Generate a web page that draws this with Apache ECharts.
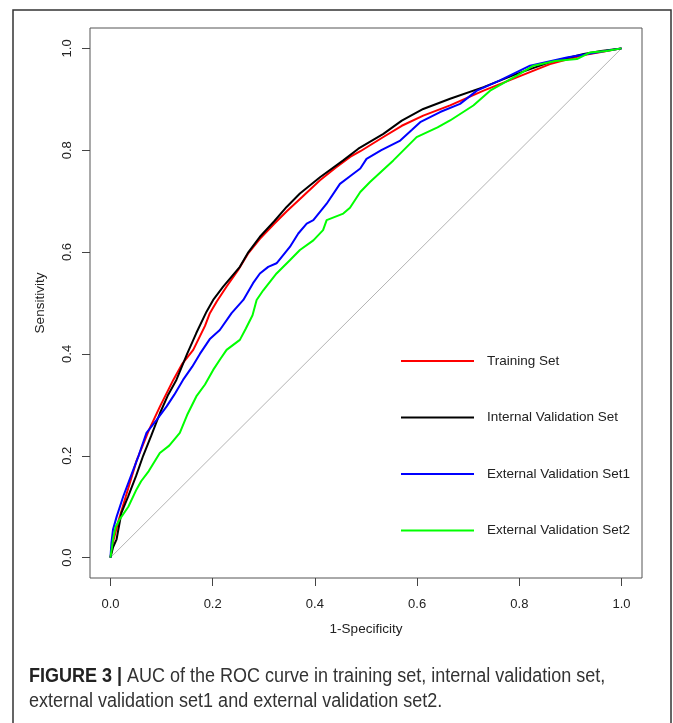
<!DOCTYPE html>
<html>
<head>
<meta charset="utf-8">
<script src="https://cdn.jsdelivr.net/npm/echarts@6/dist/echarts.min.js"></script>
<style>
html,body{margin:0;padding:0;background:#fff;}
#chart{width:673px;height:723px;}
</style>
</head>
<body>
<div id="chart"></div>
<script>
// ---- data ----
const seriesNames = ['Training Set', 'Internal Validation Set', 'External Validation Set1', 'External Validation Set2'];
const tickValues = [0, 0.2, 0.4, 0.6, 0.8, 1.0];
const xAxisTitle = '1-Specificity';
const yAxisTitle = 'Sensitivity';
const captionBold = 'FIGURE 3 |';
const captionLine1 = ' AUC of the ROC curve in training set, internal validation set,';
const captionLine2 = 'external validation set1 and external validation set2.';

const trainingSet = [[0,0],[0.005,0.03],[0.015,0.07],[0.03,0.12],[0.051,0.19],[0.075,0.25],[0.097,0.297],[0.123,0.349],[0.14,0.38],[0.162,0.408],[0.185,0.455],[0.1945,0.48],[0.208,0.503],[0.227,0.532],[0.25,0.565],[0.27,0.598],[0.2924,0.626],[0.32,0.655],[0.345,0.68],[0.375,0.708],[0.41,0.741],[0.44,0.765],[0.469,0.787],[0.489,0.798],[0.534,0.826],[0.57,0.848],[0.612,0.868],[0.6645,0.888],[0.73,0.917],[0.795,0.943],[0.86,0.969],[0.926,0.987],[0.96,0.993],[1,1]];
const internalSet = [[0,0],[0.005,0.02],[0.012,0.036],[0.0215,0.088],[0.0345,0.12],[0.05,0.16],[0.064,0.2],[0.08,0.24],[0.097,0.284],[0.113,0.32],[0.129,0.349],[0.15,0.40],[0.168,0.441],[0.188,0.483],[0.201,0.506],[0.2206,0.532],[0.2532,0.571],[0.27,0.60],[0.2924,0.63],[0.32,0.66],[0.3447,0.6886],[0.3707,0.715],[0.41,0.747],[0.4555,0.78],[0.485,0.803],[0.534,0.832],[0.57,0.858],[0.612,0.881],[0.6645,0.901],[0.73,0.924],[0.795,0.95],[0.86,0.973],[0.926,0.989],[0.96,0.995],[1,1]];
const externalSet1 = [[0,0],[0.002,0.03],[0.005,0.055],[0.012,0.08],[0.025,0.12],[0.04,0.16],[0.055,0.2],[0.0705,0.245],[0.09,0.27],[0.11,0.297],[0.125,0.32],[0.142,0.349],[0.16,0.375],[0.175,0.40],[0.195,0.43],[0.214,0.447],[0.237,0.48],[0.26,0.506],[0.279,0.539],[0.2924,0.558],[0.3087,0.571],[0.325,0.578],[0.351,0.61],[0.3675,0.6365],[0.384,0.656],[0.397,0.6626],[0.423,0.695],[0.449,0.734],[0.4687,0.749],[0.4888,0.764],[0.501,0.783],[0.53,0.80],[0.567,0.819],[0.59,0.84],[0.606,0.855],[0.645,0.875],[0.684,0.891],[0.717,0.917],[0.762,0.937],[0.821,0.966],[0.893,0.982],[0.95,0.992],[1,1]];
const externalSet2 = [[0,0],[0.003,0.02],[0.005,0.036],[0.01,0.06],[0.018,0.075],[0.035,0.10],[0.051,0.134],[0.06,0.15],[0.075,0.17],[0.0966,0.2056],[0.115,0.22],[0.1357,0.2448],[0.15,0.28],[0.168,0.3165],[0.185,0.34],[0.201,0.3686],[0.215,0.39],[0.2272,0.408],[0.2532,0.4276],[0.265,0.45],[0.278,0.476],[0.286,0.506],[0.299,0.525],[0.325,0.558],[0.351,0.584],[0.3707,0.604],[0.397,0.623],[0.416,0.643],[0.423,0.6626],[0.4555,0.6756],[0.4687,0.687],[0.4888,0.718],[0.5078,0.7376],[0.5535,0.78],[0.599,0.8257],[0.64,0.845],[0.6645,0.8584],[0.71,0.8878],[0.7428,0.917],[0.795,0.9465],[0.8276,0.966],[0.87,0.975],[0.9126,0.979],[0.9387,0.992],[0.97,0.995],[1,1]];
const chanceLine = [[0,0],[1,1]];

const seriesData = [trainingSet, internalSet, externalSet1, externalSet2];
const seriesColors = ['#ff0000', '#000000', '#0000ff', '#00ff00'];

const FONT = 'Liberation Sans, Arial, sans-serif';
const chart = echarts.init(document.getElementById('chart'), null, {renderer: 'canvas'});

const axisCommon = {
  type: 'value',
  min: -0.04,
  max: 1.04,
  splitLine: {show: false},
  axisLine: {show: false, onZero: false},
  axisTick: {show: true, inside: false, length: 8, lineStyle: {color: '#444', width: 1}, customValues: tickValues},
  axisLabel: {show: true, customValues: tickValues, formatter: v => v.toFixed(1), color: '#222', fontSize: 13, fontFamily: FONT, margin: 20},
  nameLocation: 'middle',
  nameTextStyle: {color: '#222', fontSize: 13.5, fontFamily: FONT}
};

const option = {
  animation: false,
  backgroundColor: '#fff',
  grid: {left: 90, right: 31, top: 28, bottom: 723 - 578, show: true, borderColor: '#555', borderWidth: 1, backgroundColor: 'transparent', containLabel: false},
  xAxis: Object.assign({}, axisCommon, {name: xAxisTitle, nameGap: 44, position: 'bottom'}),
  yAxis: Object.assign({}, axisCommon, {name: yAxisTitle, nameGap: 43, position: 'left',
    axisLabel: Object.assign({}, axisCommon.axisLabel, {rotate: 90, margin: 16})}),
  legend: {
    data: seriesNames,
    orient: 'vertical',
    left: 401,
    top: 354,
    padding: 0,
    icon: 'rect',
    itemWidth: 73,
    itemHeight: 2,
    itemGap: 42.5,
    selectedMode: false,
    textStyle: {color: '#222', fontSize: 13.5, fontFamily: FONT, padding: [0, 0, 0, 8]}
  },
  series: [
    {type: 'line', name: 'chance', data: chanceLine, symbol: 'none', silent: true,
     lineStyle: {color: '#b4b4b4', width: 1}, z: 1}
  ].concat(seriesNames.map((n, i) => ({
    type: 'line', name: n, data: seriesData[i], symbol: 'none', smooth: false,
    lineStyle: {color: seriesColors[i], width: 2}, itemStyle: {color: seriesColors[i]}, z: 2 + i
  }))),
  graphic: [
    {type: 'rect', shape: {x: 13, y: 10, width: 658, height: 800}, style: {fill: 'none', stroke: '#333', lineWidth: 1.5}, silent: true},
    {type: 'text', x: 29, y: 666, scaleX: 0.9, style: {
      text: '{b|' + captionBold + '}{n|' + captionLine1 + '}',
      rich: {
        b: {fontFamily: FONT, fontWeight: 'bold', fontSize: 20, fill: '#222'},
        n: {fontFamily: FONT, fontSize: 20, fill: '#333'}
      }}},
    {type: 'text', x: 29, y: 691, scaleX: 0.9, style: {
      text: captionLine2, fontFamily: FONT, fontSize: 20, fill: '#333'}}
  ]
};
chart.setOption(option);
</script>
</body>
</html>
